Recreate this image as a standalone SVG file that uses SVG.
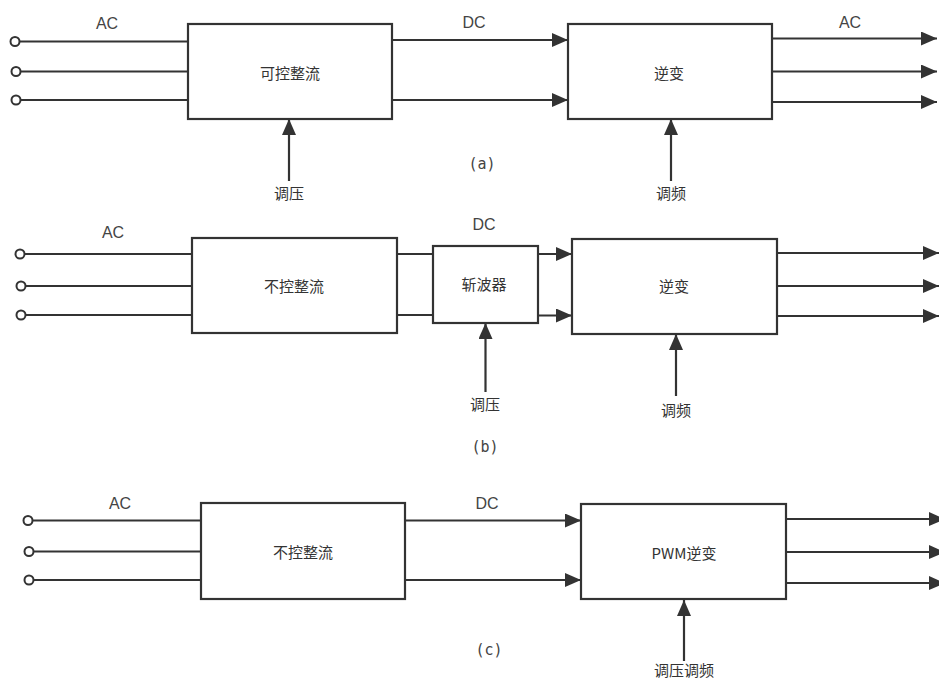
<svg xmlns="http://www.w3.org/2000/svg" width="939" height="680" viewBox="0 0 939 680">
<style>
.box{fill:#fff;stroke:#333;stroke-width:2.2}
.ln{stroke:#333;stroke-width:2.2;fill:none}
.arr{stroke:#333;stroke-width:2.2;fill:none;marker-end:url(#ah)}
.term{fill:#fff;stroke:#333;stroke-width:2}
.t{font-family:"Noto Sans CJK SC","Liberation Sans",sans-serif;font-size:15px;fill:#333;text-anchor:middle;dominant-baseline:central}
.l{font-family:"Liberation Sans","Noto Sans CJK SC",sans-serif;font-size:16px;fill:#444;text-anchor:middle;dominant-baseline:central}
.c{font-family:"DejaVu Sans Mono","Liberation Mono",monospace;font-size:15px;fill:#444;text-anchor:middle;dominant-baseline:central}
</style>
<defs>
<marker id="ah" markerUnits="userSpaceOnUse" markerWidth="18" markerHeight="14" refX="16" refY="7" orient="auto">
<path d="M0,0 L16,7 L0,14 Z" fill="#333"/>
</marker>
</defs>
<rect width="939" height="680" fill="#fff"/>
<g id="connectors">
<line class="ln" x1="19" y1="41.5" x2="188" y2="41.5"/>
<line class="ln" x1="20" y1="71.5" x2="188" y2="71.5"/>
<line class="ln" x1="20" y1="100" x2="188" y2="100"/>
<line class="arr" x1="392" y1="40" x2="568" y2="40"/>
<line class="arr" x1="392" y1="100" x2="568" y2="100"/>
<line class="arr" x1="772" y1="38.5" x2="937" y2="38.5"/>
<line class="arr" x1="772" y1="71.5" x2="937" y2="71.5"/>
<line class="arr" x1="772" y1="102" x2="937" y2="102"/>
<line class="arr" x1="289" y1="181" x2="289" y2="119"/>
<line class="arr" x1="671" y1="181" x2="671" y2="119"/>
<line class="ln" x1="24.5" y1="254" x2="192" y2="254"/>
<line class="ln" x1="25.5" y1="286" x2="192" y2="286"/>
<line class="ln" x1="25.5" y1="315" x2="192" y2="315"/>
<line class="ln" x1="397" y1="254" x2="433" y2="254"/>
<line class="ln" x1="397" y1="315" x2="433" y2="315"/>
<line class="arr" x1="538" y1="254" x2="572" y2="254"/>
<line class="arr" x1="538" y1="315.5" x2="572" y2="315.5"/>
<line class="arr" x1="777" y1="253" x2="939" y2="253"/>
<line class="arr" x1="777" y1="286" x2="939" y2="286"/>
<line class="arr" x1="777" y1="316" x2="939" y2="316"/>
<line class="arr" x1="485.5" y1="392" x2="485.5" y2="323"/>
<line class="arr" x1="676" y1="396" x2="676" y2="334"/>
<line class="ln" x1="32.5" y1="520.5" x2="201" y2="520.5"/>
<line class="ln" x1="33.5" y1="551.5" x2="201" y2="551.5"/>
<line class="ln" x1="33.5" y1="580" x2="201" y2="580"/>
<line class="arr" x1="405" y1="520.5" x2="581" y2="520.5"/>
<line class="arr" x1="405" y1="580" x2="581" y2="580"/>
<line class="arr" x1="786" y1="519" x2="945" y2="519"/>
<line class="arr" x1="786" y1="552" x2="945" y2="552"/>
<line class="arr" x1="786" y1="583" x2="945" y2="583"/>
<line class="arr" x1="684" y1="661" x2="684" y2="600"/>
</g>
<g id="terminals">
<circle class="term" cx="15" cy="41.5" r="4.5"/>
<circle class="term" cx="16" cy="71.5" r="4.5"/>
<circle class="term" cx="16" cy="100" r="4.5"/>
<circle class="term" cx="20" cy="254" r="4.5"/>
<circle class="term" cx="21" cy="286" r="4.5"/>
<circle class="term" cx="21" cy="315" r="4.5"/>
<circle class="term" cx="28" cy="520.5" r="4.5"/>
<circle class="term" cx="29" cy="551.5" r="4.5"/>
<circle class="term" cx="29" cy="580" r="4.5"/>
</g>
<g id="a-rect">
<rect class="box" x="188" y="24" width="204" height="95"/>
<text class="t" x="290" y="72">可控整流</text>
</g>
<g id="a-inv">
<rect class="box" x="568" y="24" width="204" height="95"/>
<text class="t" x="669" y="72">逆变</text>
</g>
<g id="b-rect">
<rect class="box" x="192" y="238" width="205" height="95"/>
<text class="t" x="294" y="285">不控整流</text>
</g>
<g id="b-chop">
<rect class="box" x="433" y="246" width="105" height="77"/>
<text class="t" x="484" y="283">斩波器</text>
</g>
<g id="b-inv">
<rect class="box" x="572" y="239" width="205" height="95"/>
<text class="t" x="674" y="285">逆变</text>
</g>
<g id="c-rect">
<rect class="box" x="201" y="503" width="204" height="96"/>
<text class="t" x="303" y="551">不控整流</text>
</g>
<g id="c-inv">
<rect class="box" x="581" y="504" width="205" height="95"/>
<text class="t" x="684" y="552">PWM逆变</text>
</g>
<g id="labels">
<text class="l" x="107" y="23">AC</text>
<text class="l" x="474" y="22">DC</text>
<text class="l" x="850" y="22">AC</text>
<text class="t" x="289" y="192">调压</text>
<text class="t" x="671" y="192">调频</text>
<text class="c" x="482" y="164">(a)</text>
<text class="l" x="113" y="232">AC</text>
<text class="l" x="484" y="224">DC</text>
<text class="t" x="485" y="403">调压</text>
<text class="t" x="676" y="409">调频</text>
<text class="c" x="485" y="447">(b)</text>
<text class="l" x="120" y="503">AC</text>
<text class="l" x="487" y="503">DC</text>
<text class="c" x="489" y="650">(c)</text>
<text class="t" x="684" y="669">调压调频</text>
</g>
</svg>
